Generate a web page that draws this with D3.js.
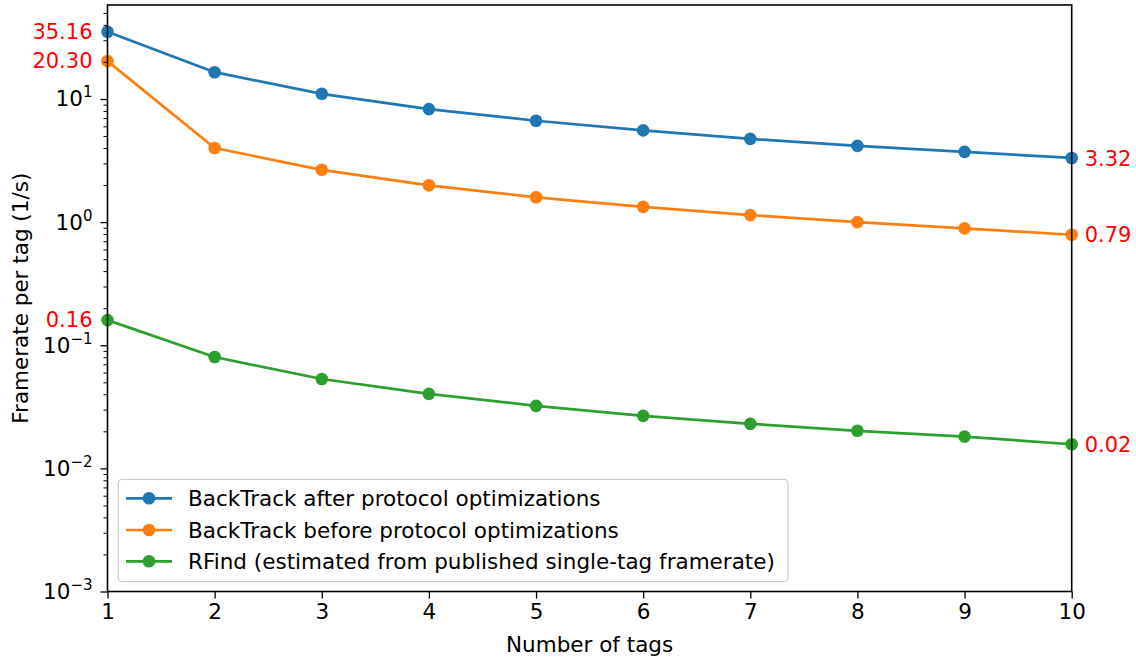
<!DOCTYPE html>
<html>
<head>
<meta charset="utf-8">
<script src="https://cdn.jsdelivr.net/npm/d3@7/dist/d3.min.js"></script>
<style>
  html, body { margin: 0; padding: 0; background: #fff; }
  svg { display: block; font-family: "DejaVu Sans", sans-serif; }
</style>
</head>
<body>
<svg id="chart" width="1136" height="659"></svg>
<script>
// Number of tags on the x axis
const tags = [1, 2, 3, 4, 5, 6, 7, 8, 9, 10];

// Framerate per tag (1/s) for each system
const afterOpt  = [35.16, 16.51, 11.02, 8.28, 6.66, 5.56, 4.74, 4.16, 3.72, 3.32];
const beforeOpt = [20.30, 4.00, 2.66, 1.99, 1.59, 1.33, 1.14, 1.00, 0.889, 0.79];
const rfind     = [0.16, 0.0802, 0.0532, 0.0403, 0.0322, 0.0267, 0.0230, 0.0202, 0.0181, 0.0157];

const seriesNames = [
  "BackTrack after protocol optimizations",
  "BackTrack before protocol optimizations",
  "RFind (estimated from published single-tag framerate)"
];
const seriesColors = ["#1f77b4", "#ff7f0e", "#2ca02c"];

// Axis ticks
const xTicks = tags;
const yMajorExps = [-3, -2, -1, 0, 1];
const yDomain = [1e-3, 58];

const series = [afterOpt, beforeOpt, rfind].map((vals, i) => ({
  name: seriesNames[i],
  color: seriesColors[i],
  points: vals.map((v, j) => ({ x: tags[j], y: v }))
}));

const svg = d3.select("#chart");
const plot = { left: 107.5, right: 1071.7, top: 5, bottom: 591.5 };

const x = d3.scaleLinear().domain([1, 10]).range([plot.left, plot.right]);
const y = d3.scaleLog().domain(yDomain).range([plot.bottom, plot.top]);

const fontPx = 21.5;

// ---- Lines and markers ----
const line = d3.line().x(d => x(d.x)).y(d => y(d.y));
const gData = svg.append("g");
series.forEach(s => {
  gData.append("path")
    .datum(s.points)
    .attr("fill", "none")
    .attr("stroke", s.color)
    .attr("stroke-width", 2.7)
    .attr("stroke-linejoin", "round")
    .attr("d", line);
  gData.selectAll(null)
    .data(s.points)
    .enter().append("circle")
    .attr("cx", d => x(d.x))
    .attr("cy", d => y(d.y))
    .attr("r", 6.3)
    .attr("fill", s.color);
});

// ---- Frame ----
svg.append("rect")
  .attr("x", plot.left).attr("y", plot.top)
  .attr("width", plot.right - plot.left)
  .attr("height", plot.bottom - plot.top)
  .attr("fill", "none").attr("stroke", "#000").attr("stroke-width", 1.6);

// ---- X axis ----
const xAxis = d3.axisBottom(x)
  .tickValues(xTicks)
  .tickFormat(d3.format("d"))
  .tickSize(7)
  .tickPadding(5);
const gx = svg.append("g")
  .attr("transform", `translate(0,${plot.bottom})`)
  .call(xAxis);
gx.select(".domain").remove();
gx.selectAll(".tick line").attr("stroke", "#000").attr("stroke-width", 1.3);
gx.selectAll(".tick text")
  .attr("fill", "#000")
  .style("font-size", fontPx + "px")
  .style("font-family", "DejaVu Sans");

// ---- Y axis (log, major + minor) ----
const majorVals = yMajorExps.map(e => Math.pow(10, e));
const minorVals = [];
for (let e = -3; e <= 1; e++) {
  for (let m = 2; m <= 9; m++) {
    const v = m * Math.pow(10, e);
    if (v <= yDomain[1]) minorVals.push(v);
  }
}
const yMinor = d3.axisLeft(y).tickValues(minorVals).tickFormat("").tickSize(4);
const gyMinor = svg.append("g").attr("transform", `translate(${plot.left},0)`).call(yMinor);
gyMinor.select(".domain").remove();
gyMinor.selectAll(".tick line").attr("stroke", "#000").attr("stroke-width", 1.0);

const yMajor = d3.axisLeft(y).tickValues(majorVals).tickFormat("").tickSize(7);
const gyMajor = svg.append("g").attr("transform", `translate(${plot.left},0)`).call(yMajor);
gyMajor.select(".domain").remove();
gyMajor.selectAll(".tick line").attr("stroke", "#000").attr("stroke-width", 1.3);

// Major labels as 10 with a superscript exponent
const yLab = svg.append("g");
yMajorExps.forEach(e => {
  const t = yLab.append("text")
    .attr("x", plot.left - 15)
    .attr("y", y(Math.pow(10, e)) + 7.5)
    .attr("text-anchor", "end")
    .style("font-size", fontPx + "px")
    .attr("fill", "#000");
  t.append("tspan").text("10");
  t.append("tspan")
    .attr("dy", -9)
    .style("font-size", "15px")
    .text(e < 0 ? "\u2212" + Math.abs(e) : String(e));
});

// ---- Axis titles ----
svg.append("text")
  .attr("x", (plot.left + plot.right) / 2)
  .attr("y", 652)
  .attr("text-anchor", "middle")
  .style("font-size", fontPx + "px")
  .attr("fill", "#000")
  .text("Number of tags");

svg.append("text")
  .attr("transform", `translate(28,${(plot.top + plot.bottom) / 2}) rotate(-90)`)
  .attr("text-anchor", "middle")
  .style("font-size", fontPx + "px")
  .attr("fill", "#000")
  .text("Framerate per tag (1/s)");

// ---- Endpoint value annotations ----
const fmt = v => v.toFixed(2);
const ann = svg.append("g")
  .attr("fill", "#ff0000")
  .style("font-size", "21px");
series.forEach(s => {
  const first = s.points[0];
  const last = s.points[s.points.length - 1];
  ann.append("text")
    .attr("x", plot.left - 15)
    .attr("y", y(first.y))
    .attr("dy", "0.34em")
    .attr("text-anchor", "end")
    .text(fmt(first.y));
  ann.append("text")
    .attr("x", plot.right + 13)
    .attr("y", y(last.y))
    .attr("dy", "0.36em")
    .attr("text-anchor", "start")
    .text(fmt(last.y));
});

// ---- Legend ----
const legend = svg.append("g");
legend.append("rect")
  .attr("x", 118.3).attr("y", 479.3)
  .attr("width", 788 - 118.3).attr("height", 581.7 - 479.3)
  .attr("rx", 4).attr("ry", 4)
  .attr("fill", "#fff").attr("fill-opacity", 0.8)
  .attr("stroke", "#d0d0d0").attr("stroke-width", 1.3);
const rowY = [498.3, 530, 561.3];
series.forEach((s, i) => {
  const gy = rowY[i];
  legend.append("line")
    .attr("x1", 126).attr("x2", 172)
    .attr("y1", gy).attr("y2", gy)
    .attr("stroke", s.color).attr("stroke-width", 2.7);
  legend.append("circle")
    .attr("cx", 149).attr("cy", gy).attr("r", 6.3)
    .attr("fill", s.color);
  legend.append("text")
    .attr("x", 188)
    .attr("y", gy)
    .attr("dy", "0.36em")
    .style("font-size", fontPx + "px")
    .attr("fill", "#000")
    .text(s.name);
});
</script>
</body>
</html>
